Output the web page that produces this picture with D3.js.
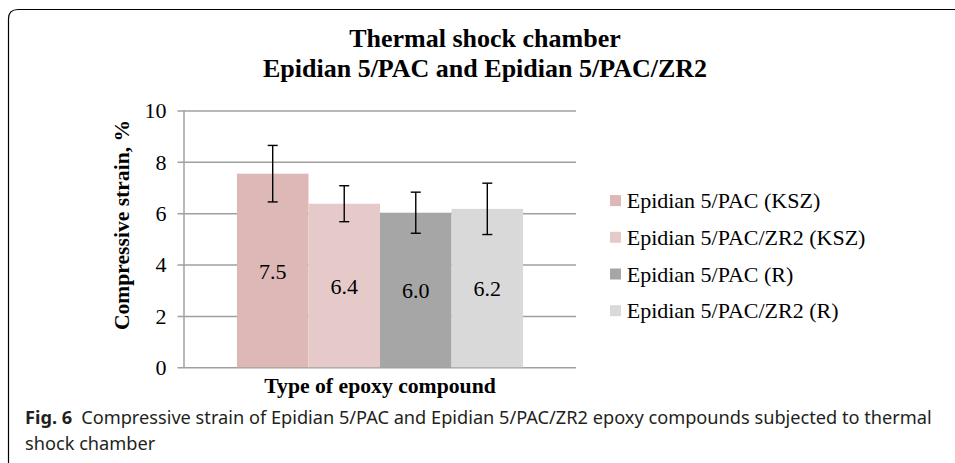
<!DOCTYPE html>
<html>
<head>
<meta charset="utf-8">
<script src="https://d3js.org/d3.v7.min.js"></script>
<style>
  body { margin: 0; background: #fff; }
  svg { display: block; }
  .serif { font-family: 'Liberation Serif', 'Times New Roman', serif; }
  .grid line { stroke: #a0a0a0; stroke-width: 1.5; }
  .grid path { display: none; }
  .caption { font-family: 'Noto Sans', 'Open Sans', sans-serif; fill: #231f20; }
</style>
</head>
<body>
<svg id="chart" width="955" height="463"></svg>
<script>
// data
const category = "Type of epoxy compound";
const seriesNames = ["Epidian 5/PAC (KSZ)", "Epidian 5/PAC/ZR2 (KSZ)", "Epidian 5/PAC (R)", "Epidian 5/PAC/ZR2 (R)"];
const seriesValues = [7.54, 6.37, 6.02, 6.17];
const seriesErrors = [1.1, 0.7, 0.8, 1.0];
const seriesColors = ["#ddb8b7", "#e6caca", "#a6a6a6", "#d9d9d9"];
const yTicks = [0, 2, 4, 6, 8, 10];

const width = 955, height = 463;
const margin = { top: 110.5, right: 379, bottom: 95.7, left: 184 };

const svg = d3.select("#chart");

// figure frame (rounded top-left corner)
svg.append("path")
  .attr("d", "M8.5,470 L8.5,19 Q8.5,9.5 18,9.5 L960,9.5")
  .attr("fill", "none")
  .attr("stroke", "#000")
  .attr("stroke-width", 1.2);

// title
const title = svg.append("text")
  .attr("class", "serif")
  .attr("text-anchor", "middle")
  .style("font-size", "26px")
  .style("font-weight", "bold");
title.append("tspan").attr("x", 485).attr("y", 46.5).text("Thermal shock chamber");
title.append("tspan").attr("x", 485).attr("y", 77).text("Epidian 5/PAC and Epidian 5/PAC/ZR2");

const yScale = d3.scaleLinear()
  .domain([0, 10])
  .range([height - margin.bottom, margin.top]);

const x0 = d3.scaleBand()
  .domain([category])
  .range([margin.left, width - margin.right])
  .paddingInner(0)
  .paddingOuter(0.185);

const x1 = d3.scaleBand()
  .domain(seriesNames)
  .range([0, x0.bandwidth()]);

// gridlines + ticks
const grid = svg.append("g")
  .attr("class", "grid")
  .attr("transform", `translate(${margin.left},0)`)
  .call(d3.axisLeft(yScale)
    .tickValues(yTicks)
    .tickSize(-(width - margin.left - margin.right))
    .tickFormat(""));
grid.selectAll(".tick line").attr("x1", -6.5);

// tick labels
svg.append("g")
  .selectAll("text")
  .data(yTicks)
  .join("text")
  .attr("class", "serif")
  .attr("x", 166.5)
  .attr("y", d => yScale(d))
  .attr("dy", "0.35em")
  .attr("text-anchor", "end")
  .style("font-size", "22px")
  .text(d => d);

const data = seriesNames.map((s, i) => ({ name: s, value: seriesValues[i], err: seriesErrors[i], color: seriesColors[i] }));

// bars
svg.append("g")
  .selectAll("rect")
  .data(data)
  .join("rect")
  .attr("x", d => x0(category) + x1(d.name))
  .attr("y", d => yScale(d.value))
  .attr("width", x1.bandwidth())
  .attr("height", d => yScale(0) - yScale(d.value))
  .attr("fill", d => d.color);

// y axis line
svg.append("line")
  .attr("x1", margin.left).attr("x2", margin.left)
  .attr("y1", yScale(10)).attr("y2", yScale(0))
  .attr("stroke", "#a0a0a0").attr("stroke-width", 1.5);

// error bars
const eb = svg.append("g")
  .selectAll("g")
  .data(data)
  .join("g")
  .attr("transform", d => `translate(${x0(category) + x1(d.name) + x1.bandwidth() / 2},0)`)
  .attr("stroke", "#000")
  .attr("stroke-width", 1.4);
eb.append("line").attr("y1", d => yScale(d.value + d.err)).attr("y2", d => yScale(d.value - d.err));
eb.append("line").attr("x1", -5).attr("x2", 5).attr("y1", d => yScale(d.value + d.err)).attr("y2", d => yScale(d.value + d.err));
eb.append("line").attr("x1", -5).attr("x2", 5).attr("y1", d => yScale(d.value - d.err)).attr("y2", d => yScale(d.value - d.err));

// value labels centred in bars
svg.append("g")
  .selectAll("text")
  .data(data)
  .join("text")
  .attr("class", "serif")
  .attr("x", d => x0(category) + x1(d.name) + x1.bandwidth() / 2)
  .attr("y", d => (yScale(d.value) + yScale(0)) / 2)
  .attr("dy", "0.38em")
  .attr("text-anchor", "middle")
  .style("font-size", "22px")
  .text(d => d.value.toFixed(1));

// axis titles
svg.append("text")
  .attr("class", "serif")
  .attr("transform", "translate(129,225) rotate(-90)")
  .attr("text-anchor", "middle")
  .style("font-size", "21.6px")
  .style("font-weight", "bold")
  .text("Compressive strain, %");

svg.append("text")
  .attr("class", "serif")
  .attr("x", x0(category) + x0.bandwidth() / 2)
  .attr("y", 392.5)
  .attr("text-anchor", "middle")
  .style("font-size", "21.7px")
  .style("font-weight", "bold")
  .text(category);

// legend
const legend = svg.append("g").attr("transform", "translate(610,200.6)");
data.forEach((d, i) => {
  legend.append("rect")
    .attr("x", 0).attr("y", i * 36.7 - 5.5)
    .attr("width", 11).attr("height", 11)
    .attr("fill", d.color);
  legend.append("text")
    .attr("class", "serif")
    .attr("x", 16.7).attr("y", i * 36.7)
    .attr("dy", "0.35em")
    .style("font-size", "22px")
    .text(d.name);
});

// caption
const cap = svg.append("text")
  .attr("class", "caption")
  .style("font-size", "18.2px");
cap.append("tspan").attr("x", 25).attr("y", 424).style("font-weight", "bold").text("Fig. 6");
cap.append("tspan").attr("dx", 9).text("Compressive strain of Epidian 5/PAC and Epidian 5/PAC/ZR2 epoxy compounds subjected to thermal");
cap.append("tspan").attr("x", 25).attr("y", 450).text("shock chamber");
</script>
</body>
</html>
